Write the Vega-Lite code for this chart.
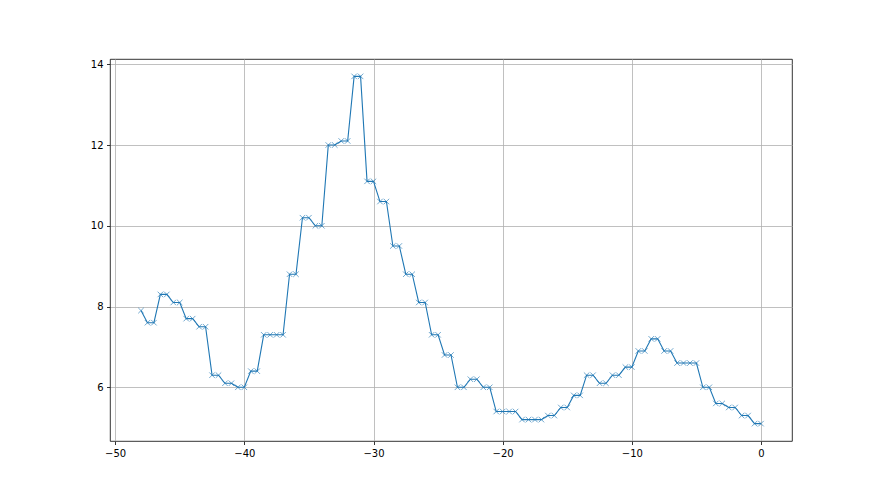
{
  "$schema": "https://vega.github.io/schema/vega-lite/v6.json",
  "width": 682,
  "height": 382,
  "autosize": {"type": "none"},
  "padding": {"left": 110, "top": 59, "right": 88, "bottom": 54},
  "background": "white",
  "config": {
    "view": {"stroke": "#000000", "strokeWidth": 0.8},
    "axis": {
      "labelFont": "DejaVu Sans",
      "labelFontSize": 10,
      "labelColor": "#000000",
      "tickColor": "#000000",
      "tickSize": 3.5,
      "tickWidth": 0.8,
      "labelPadding": 3.5,
      "domain": false,
      "grid": true,
      "gridColor": "#b0b0b0",
      "gridWidth": 0.8,
      "title": null
    }
  },
  "data": {
    "values": [
      {"x": -48, "y": 7.9},
      {"x": -47.5, "y": 7.6}, {"x": -47, "y": 7.6},
      {"x": -46.5, "y": 8.3}, {"x": -46, "y": 8.3},
      {"x": -45.5, "y": 8.1}, {"x": -45, "y": 8.1},
      {"x": -44.5, "y": 7.7}, {"x": -44, "y": 7.7},
      {"x": -43.5, "y": 7.5}, {"x": -43, "y": 7.5},
      {"x": -42.5, "y": 6.3}, {"x": -42, "y": 6.3},
      {"x": -41.5, "y": 6.1}, {"x": -41, "y": 6.1},
      {"x": -40.5, "y": 6.0}, {"x": -40, "y": 6.0},
      {"x": -39.5, "y": 6.4}, {"x": -39, "y": 6.4},
      {"x": -38.5, "y": 7.3}, {"x": -38, "y": 7.3}, {"x": -37.5, "y": 7.3}, {"x": -37, "y": 7.3},
      {"x": -36.5, "y": 8.8}, {"x": -36, "y": 8.8},
      {"x": -35.5, "y": 10.2}, {"x": -35, "y": 10.2},
      {"x": -34.5, "y": 10.0}, {"x": -34, "y": 10.0},
      {"x": -33.5, "y": 12.0}, {"x": -33, "y": 12.0},
      {"x": -32.5, "y": 12.1}, {"x": -32, "y": 12.1},
      {"x": -31.5, "y": 13.7}, {"x": -31, "y": 13.7},
      {"x": -30.5, "y": 11.1}, {"x": -30, "y": 11.1},
      {"x": -29.5, "y": 10.6}, {"x": -29, "y": 10.6},
      {"x": -28.5, "y": 9.5}, {"x": -28, "y": 9.5},
      {"x": -27.5, "y": 8.8}, {"x": -27, "y": 8.8},
      {"x": -26.5, "y": 8.1}, {"x": -26, "y": 8.1},
      {"x": -25.5, "y": 7.3}, {"x": -25, "y": 7.3},
      {"x": -24.5, "y": 6.8}, {"x": -24, "y": 6.8},
      {"x": -23.5, "y": 6.0}, {"x": -23, "y": 6.0},
      {"x": -22.5, "y": 6.2}, {"x": -22, "y": 6.2},
      {"x": -21.5, "y": 6.0}, {"x": -21, "y": 6.0},
      {"x": -20.5, "y": 5.4}, {"x": -20, "y": 5.4}, {"x": -19.5, "y": 5.4}, {"x": -19, "y": 5.4},
      {"x": -18.5, "y": 5.2}, {"x": -18, "y": 5.2}, {"x": -17.5, "y": 5.2}, {"x": -17, "y": 5.2},
      {"x": -16.5, "y": 5.3}, {"x": -16, "y": 5.3},
      {"x": -15.5, "y": 5.5}, {"x": -15, "y": 5.5},
      {"x": -14.5, "y": 5.8}, {"x": -14, "y": 5.8},
      {"x": -13.5, "y": 6.3}, {"x": -13, "y": 6.3},
      {"x": -12.5, "y": 6.1}, {"x": -12, "y": 6.1},
      {"x": -11.5, "y": 6.3}, {"x": -11, "y": 6.3},
      {"x": -10.5, "y": 6.5}, {"x": -10, "y": 6.5},
      {"x": -9.5, "y": 6.9}, {"x": -9, "y": 6.9},
      {"x": -8.5, "y": 7.2}, {"x": -8, "y": 7.2},
      {"x": -7.5, "y": 6.9}, {"x": -7, "y": 6.9},
      {"x": -6.5, "y": 6.6}, {"x": -6, "y": 6.6}, {"x": -5.5, "y": 6.6}, {"x": -5, "y": 6.6},
      {"x": -4.5, "y": 6.0}, {"x": -4, "y": 6.0},
      {"x": -3.5, "y": 5.6}, {"x": -3, "y": 5.6},
      {"x": -2.5, "y": 5.5}, {"x": -2, "y": 5.5},
      {"x": -1.5, "y": 5.3}, {"x": -1, "y": 5.3},
      {"x": -0.5, "y": 5.1}, {"x": 0, "y": 5.1}
    ]
  },
  "encoding": {
    "x": {
      "field": "x", "type": "quantitative",
      "scale": {"domain": [-50.4, 2.4], "nice": false, "zero": false},
      "axis": {"values": [-50, -40, -30, -20, -10, 0], "format": "d"}
    },
    "y": {
      "field": "y", "type": "quantitative",
      "scale": {"domain": [4.67, 14.13], "nice": false, "zero": false},
      "axis": {"values": [6, 8, 10, 12, 14], "format": "d"}
    }
  },
  "layer": [
    {"mark": {"type": "line", "color": "#1f77b4", "strokeWidth": 1.1}},
    {"mark": {"type": "point", "shape": "M-1,-1L1,1M-1,1L1,-1", "filled": false, "stroke": "#1f77b4", "strokeWidth": 0.9, "opacity": 0.7, "size": 30}}
  ]
}
